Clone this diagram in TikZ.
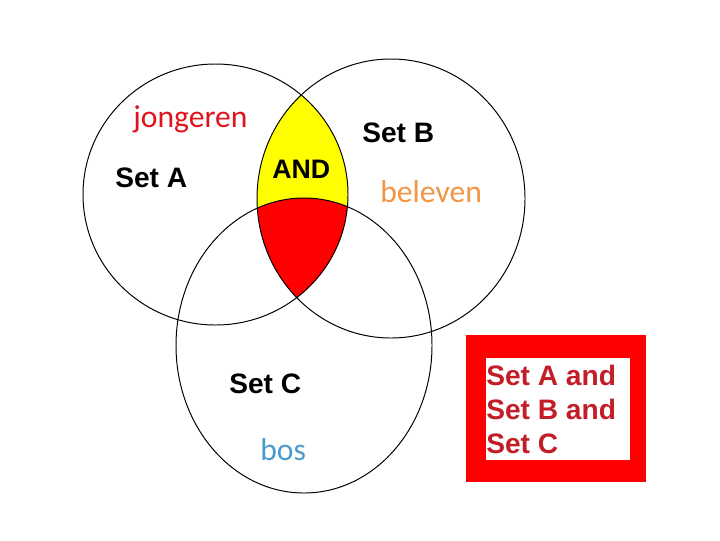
\documentclass[tikz,border=0pt]{standalone}
\usepackage{fontspec}
\setmainfont{Liberation Sans}
\newfontfamily\wordfont{Carlito}
\usepackage{xcolor}
\usepackage{tikz}
\definecolor{andyellow}{RGB}{255,255,0}
\definecolor{allred}{RGB}{255,0,0}
\definecolor{boxtext}{RGB}{195,30,40}
\definecolor{wordred}{RGB}{225,20,30}
\definecolor{wordorange}{RGB}{242,150,70}
\definecolor{wordblue}{RGB}{75,155,205}

\begin{document}
\begin{tikzpicture}[x=0.025cm, y=-0.025cm,
    setlbl/.style={inner sep=0pt, anchor=base west, font=\bfseries\fontsize{20}{24}\selectfont},
    wordlbl/.style={inner sep=0pt, anchor=base west, font=\wordfont\fontsize{22.5}{27}\selectfont}]
  % canvas: 720 x 540 px, one unit = one pixel, y grows downwards
  \path[use as bounding box, fill=white] (0,0) rectangle (720,540);
  % ============= shaded intersections =============
  \begin{scope}
    \clip (215.5,194.5) ellipse [x radius=132.5, y radius=130.5];
    \clip (391,198.5)   ellipse [x radius=134,   y radius=139.5];
    \fill[andyellow] (0,0) rectangle (720,540);
    % A and B and C
    \clip (304,345.5)   ellipse [x radius=128,   y radius=147.5];
    \fill[allred] (0,0) rectangle (720,540);
  \end{scope}
  % ============= the three sets =============
  \draw[line width=0.7pt] (215.5,194.5) ellipse [x radius=132.5, y radius=130.5];
  \draw[line width=0.7pt] (391,198.5)   ellipse [x radius=134,   y radius=139.5];
  \draw[line width=0.7pt] (304,345.5)   ellipse [x radius=128,   y radius=147.5];
  % set names
  \node[setlbl] (lblA) at (115,187) {Set A};
  \node[setlbl] (lblB) at (362,142) {Set B};
  \node[setlbl] (lblC) at (229,393) {Set C};
  \node[setlbl, font=\bfseries\fontsize{19}{23}\selectfont] (lblAnd) at (272,178) {AND};
  % words put on top
  \node[wordlbl, wordred]    (wordA) at (133,127) {jongeren};
  \node[wordlbl, wordorange] (wordB) at (380,202) {beleven};
  \node[wordlbl, wordblue]   (wordC) at (260,460) {bos};
  % ============= legend box =============
  \fill[allred] (466,335) rectangle (646,482);
  \fill[white]  (486,358) rectangle (630,460);
  \node[inner sep=0pt, anchor=north west, align=left, boxtext,
        font=\bfseries\fontsize{20}{24.2}\selectfont] (legend) at (486,365)
    {Set A and\\Set B and\\Set C};
\end{tikzpicture}
\end{document}
